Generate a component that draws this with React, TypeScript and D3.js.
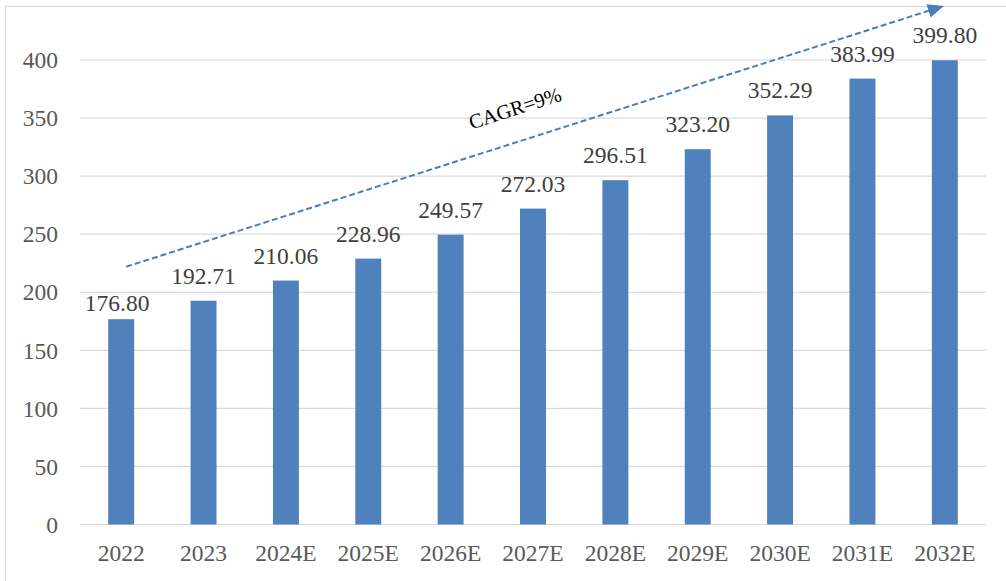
import React from "react";
import * as d3 from "d3";

const categories = ["2022", "2023", "2024E", "2025E", "2026E", "2027E", "2028E", "2029E", "2030E", "2031E", "2032E"];
const values = [176.8, 192.71, 210.06, 228.96, 249.57, 272.03, 296.51, 323.2, 352.29, 383.99, 399.8];
const yTicks = [0, 50, 100, 150, 200, 250, 300, 350, 400];
const cagrLabel = "CAGR=9%";
const arrowFrom = { cat: "2022", value: 222 };
const arrowTo = { cat: "2032E", value: 446 };

const W = 1006;
const H = 581;
const left = 80;
const right = 986;
const top = 60;
const bottom = 524.5;

export default function App() {
  const x = d3.scaleBand<string>().domain(categories).range([left, right]).paddingInner(0.685).paddingOuter(0.3425);
  const y = d3.scaleLinear().domain([0, 400]).range([bottom, top]);
  const fontStyle = { fontFamily: "Liberation Serif, Tinos, Times New Roman, DejaVu Serif, serif" };
  const cx = (c: string) => (x(c) as number) + x.bandwidth() / 2;
  const ax1 = cx(arrowFrom.cat) + 5;
  const ay1 = y(arrowFrom.value);
  const ax2 = cx(arrowTo.cat) - 3;
  const ay2 = y(arrowTo.value);
  const angle = (Math.atan2(ay2 - ay1, ax2 - ax1) * 180) / Math.PI;
  return (
    <svg width={W} height={H} style={{ position: "absolute", left: 0, top: 0, background: "#fff" }}>
      <defs>
        <marker id="ah" markerWidth="16" markerHeight="14" refX="14" refY="7" orient="auto" markerUnits="userSpaceOnUse">
          <path d="M0,0 L16,7 L0,14 Z" fill="#4a7ebb" />
        </marker>
      </defs>
      <rect x={5.5} y={6.5} width={W + 10} height={H + 10} fill="none" stroke="#d9d9d9" strokeWidth={1.2} />
      {yTicks.map((t) => (
        <g key={t}>
          <line x1={left} x2={right} y1={y(t)} y2={y(t)} stroke="#d9d9d9" strokeWidth={1.2} />
          <text x={58} y={y(t)} dy="0.35em" textAnchor="end" style={fontStyle} fontSize={23.5} fill="#595959">
            {t}
          </text>
        </g>
      ))}
      {categories.map((c, i) => (
        <g key={c}>
          <rect x={x(c)} y={y(values[i])} width={x.bandwidth()} height={bottom - y(values[i])} fill="#4f81bd" />
          <text x={cx(c) - (i === 0 ? 4 : 0)} y={y(values[i]) - (i === 0 ? 8 : 17)} textAnchor="middle" style={fontStyle} fontSize={23.5} fill="#404040">
            {values[i].toFixed(2)}
          </text>
          <text x={cx(c)} y={560.5} textAnchor="middle" style={fontStyle} fontSize={23.5} fill="#595959">
            {c}
          </text>
        </g>
      ))}
      <line x1={ax1} y1={ay1} x2={ax2} y2={ay2} stroke="#4a7ebb" strokeWidth={2} strokeDasharray="6,3" markerEnd="url(#ah)" />
      <text
        transform={`translate(515,108) rotate(${angle})`}
        textAnchor="middle"
        dy="0.35em"
        style={fontStyle}
        fontSize={20.5}
        fill="#000"
      >
        {cagrLabel}
      </text>
    </svg>
  );
}
